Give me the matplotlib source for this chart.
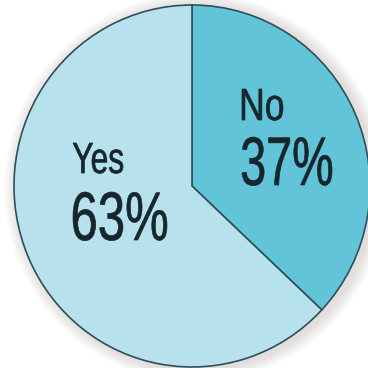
import matplotlib
matplotlib.use("Agg")
import matplotlib.pyplot as plt
from matplotlib.textpath import TextPath
from matplotlib.patches import PathPatch, Ellipse
from matplotlib.font_manager import FontProperties
from matplotlib.transforms import Affine2D

labels = ["No", "Yes"]
shares = [37, 63]
colors = ["#62c4d8", "#b7e2ed"]

W = H = 368
CX, CY = 192, 186      # pie centre in pixels
RX, RY = 178, 181      # pie radius in pixels (slightly squashed)

fig = plt.figure(figsize=(3.68, 3.68), dpi=100)
ax = fig.add_axes([0, 0, 1, 1])

# soft drop shadow behind the pie
for i in range(6):
    grow = 0.012 * (i + 1)
    ax.add_patch(Ellipse((0.02, -0.01), 2 + 2 * grow, 2 + 2 * grow,
                         facecolor="#b8a8a8", edgecolor="none",
                         alpha=0.07, zorder=0))

ax.pie(shares, colors=colors, startangle=90, counterclock=False,
       radius=1.0,
       wedgeprops=dict(edgecolor="#2d5058", linewidth=1.2, zorder=2))

ax.set_xlim(-CX / RX, (W - CX) / RX)
ax.set_ylim(-(H - CY) / RY, CY / RY)
ax.set_aspect("auto")
ax.axis("off")


def px(x, y):
    return (x - CX) / RX, (CY - y) / RY


fp = FontProperties(family="Liberation Sans")


def narrow_text(s, left, right, top, base, color="#16262c"):
    # condensed lettering: fit the glyph outline into a pixel box
    tp = TextPath((0, 0), s, size=1, prop=fp)
    ext = tp.get_extents()
    x0, y0 = px(left, base)
    x1, y1 = px(right, top)
    sx = (x1 - x0) / ext.width
    sy = (y1 - y0) / ext.y1
    tr = Affine2D().translate(-ext.x0, 0).scale(sx, sy).translate(x0, y0)
    path = tr.transform_path(tp)
    ax.add_patch(PathPatch(path, facecolor=color, edgecolor=color,
                           linewidth=0.5, zorder=5))


narrow_text(labels[0], 242, 283, 89, 120)
narrow_text(f"{shares[0]}%", 242, 332, 137, 185)
narrow_text(labels[1], 73, 123, 143, 173)
narrow_text(f"{shares[1]}%", 73, 167, 192, 240)

fig.savefig("out.png", dpi=100, facecolor="white")
